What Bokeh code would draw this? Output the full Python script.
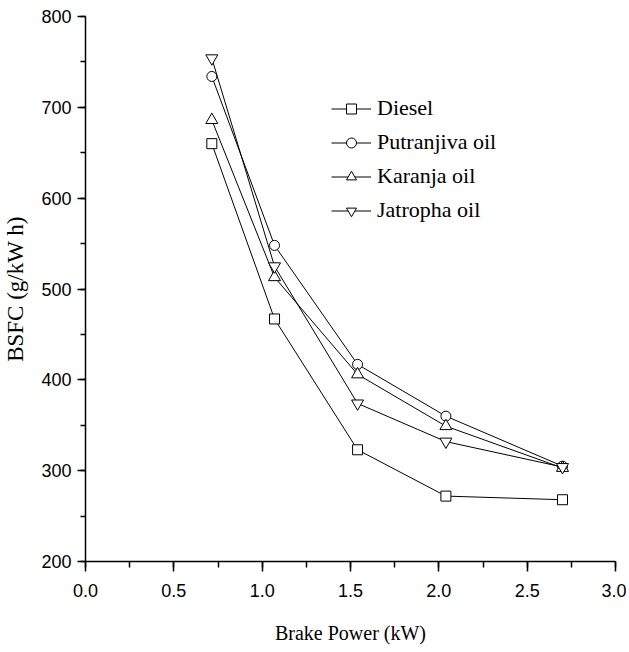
from bokeh.plotting import figure
from bokeh.models import Range1d, SingleIntervalTicker, PrintfTickFormatter, Legend, LegendItem
from bokeh.embed import file_html
from bokeh.resources import INLINE

# Data
brake_power = [0.715, 1.07, 1.54, 2.04, 2.70]
diesel = [660, 467, 323, 272, 268]
putranjiva = [734, 548, 417, 360, 305]
karanja = [686, 513, 406, 349, 303]
jatropha = [754, 525, 374, 332, 304]

series = [
    ("Diesel", diesel, "square"),
    ("Putranjiva oil", putranjiva, "circle"),
    ("Karanja oil", karanja, "triangle"),
    ("Jatropha oil", jatropha, "inverted_triangle"),
]

p = figure(width=626, height=646, output_backend="svg", toolbar_location=None,
           x_range=Range1d(0, 3), y_range=Range1d(200, 800),
           min_border_left=85, min_border_right=11, min_border_top=16, min_border_bottom=80)
p.outline_line_color = None
p.xgrid.grid_line_color = None
p.ygrid.grid_line_color = None
p.background_fill_color = "white"
p.border_fill_color = "white"

items = []
for name, vals, marker in series:
    r1 = p.line(brake_power, vals, line_color="black", line_width=1)
    r2 = p.scatter(brake_power, vals, marker=marker, size=10 if marker in ("square", "circle") else 12,
                   fill_color="white", line_color="black", line_width=1)
    items.append(LegendItem(label=name, renderers=[r1, r2]))

legend = Legend(items=items, location=(246, 338), border_line_color=None,
                background_fill_alpha=0, padding=0, spacing=8, label_height=25,
                glyph_height=25, glyph_width=40, label_standoff=6, margin=0,
                label_text_font="Liberation Serif", label_text_font_size="22px",
                label_text_color="black")
p.add_layout(legend, "center")

serif = "Liberation Serif"
sans = "Liberation Sans"

xa = p.xaxis[0]
xa.ticker = SingleIntervalTicker(interval=0.5, num_minor_ticks=2)
xa.formatter = PrintfTickFormatter(format="%.1f")
xa.axis_label = "Brake Power (kW)"
ya = p.yaxis[0]
ya.ticker = SingleIntervalTicker(interval=100, num_minor_ticks=2)
ya.formatter = PrintfTickFormatter(format="%d")
ya.axis_label = "BSFC (g/kW h)"

for ax in (xa, ya):
    ax.axis_line_color = "black"
    ax.axis_line_width = 1.5
    ax.major_tick_line_color = "black"
    ax.major_tick_line_width = 1.5
    ax.minor_tick_line_color = "black"
    ax.minor_tick_line_width = 1.5
    ax.major_tick_in = 0
    ax.minor_tick_in = 0
    ax.major_label_text_font = sans
    ax.major_label_text_font_size = "18px"
    ax.major_label_text_color = "black"
    ax.axis_label_text_font = serif
    ax.axis_label_text_font_style = "normal"
    ax.axis_label_text_color = "black"

xa.axis_label_text_font_size = "20px"
ya.axis_label_text_font_size = "23px"
xa.major_tick_out = 10
xa.minor_tick_out = 6
xa.major_label_standoff = 12
xa.axis_label_standoff = 22
ya.major_tick_out = 8
ya.minor_tick_out = 5
ya.major_label_standoff = 6
ya.axis_label_standoff = 10

open("out.html", "w").write(file_html(p, INLINE))
